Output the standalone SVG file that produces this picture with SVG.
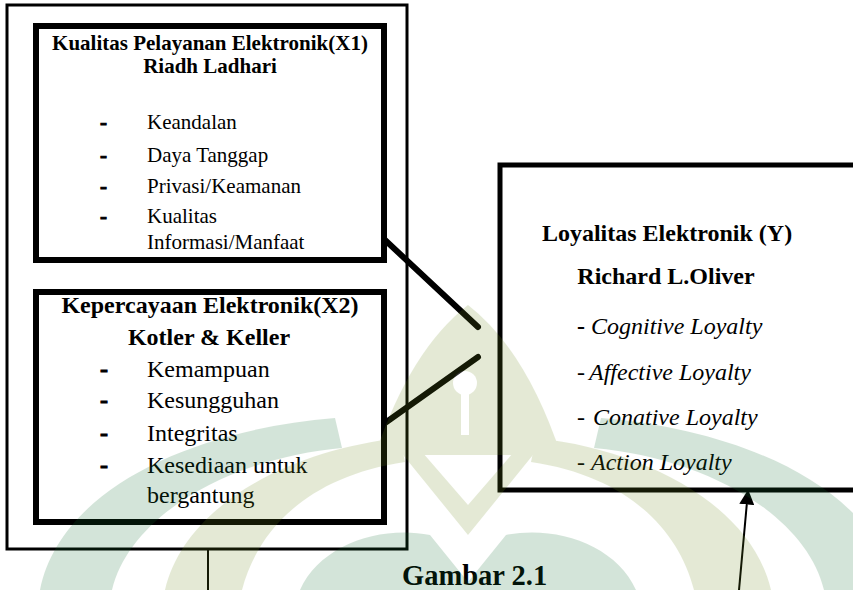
<svg xmlns="http://www.w3.org/2000/svg" width="853" height="590" viewBox="0 0 853 590">
<defs>
<style>
.box{fill:none;stroke:#000}
.t{font-family:"Liberation Serif","Times New Roman",serif;fill:#000}
.b{font-weight:bold}
.i{font-style:italic}
.d{font-weight:bold;stroke:#000;stroke-width:0.9}
.s21{font-size:21px}
.s24{font-size:24px}
.mid{text-anchor:middle}
.conn{stroke:#000;fill:none}
.wy{fill:#6e8c1e}
.wm{fill:#146e32}
</style>
<marker id="ah" viewBox="0 0 10 10" refX="9" refY="5" markerWidth="15" markerHeight="15" markerUnits="userSpaceOnUse" orient="auto">
<path d="M0,0 L10,5 L0,10 Z" fill="#000"/>
</marker>
</defs>
<rect width="853" height="590" fill="#fff"/>

<g id="group-x">
<rect class="box" x="7" y="5" width="400" height="544" stroke-width="3"/>
</g>

<g id="node-x1">
<rect class="box" x="36" y="26" width="348" height="234" stroke-width="6"/>
<text class="t b s21 mid" x="210" y="50">Kualitas Pelayanan Elektronik(X1)</text>
<text class="t b s21 mid" x="210" y="73">Riadh Ladhari</text>
<text class="t d s21" x="100" y="129">-</text>
<text class="t s21" x="147" y="129">Keandalan</text>
<text class="t d s21" x="100" y="162">-</text>
<text class="t s21" x="147" y="162">Daya Tanggap</text>
<text class="t d s21" x="100" y="193">-</text>
<text class="t s21" x="147" y="193">Privasi/Keamanan</text>
<text class="t d s21" x="100" y="223">-</text>
<text class="t s21" x="147" y="223">Kualitas</text>
<text class="t s21" x="147" y="249">Informasi/Manfaat</text>
</g>

<g id="node-x2">
<rect class="box" x="36" y="292" width="348" height="230" stroke-width="6"/>
<text class="t b s24 mid" x="210" y="313">Kepercayaan Elektronik(X2)</text>
<text class="t b s24 mid" x="209" y="345">Kotler &amp; Keller</text>
<text class="t d s24" x="100" y="377">-</text>
<text class="t s24" x="147" y="377">Kemampuan</text>
<text class="t d s24" x="100" y="408">-</text>
<text class="t s24" x="147" y="408">Kesungguhan</text>
<text class="t d s24" x="100" y="441">-</text>
<text class="t s24" x="147" y="441">Integritas</text>
<text class="t d s24" x="100" y="473">-</text>
<text class="t s24" x="147" y="473">Kesediaan untuk</text>
<text class="t s24" x="147" y="503">bergantung</text>
</g>

<g id="node-y">
<rect class="box" x="500" y="165" width="380" height="325" stroke-width="5"/>
<text class="t b s24 mid" x="667" y="241">Loyalitas Elektronik (Y)</text>
<text class="t b s24 mid" x="666" y="284">Richard L.Oliver</text>
<text class="t s24" x="577" y="334"><tspan class="b">-</tspan><tspan class="i" x="591">Cognitive Loyalty</tspan></text>
<text class="t s24" x="577" y="380">-<tspan class="i" x="589">Affective Loyalty</tspan></text>
<text class="t s24" x="577" y="425">-<tspan class="i" x="593">Conative Loyalty</tspan></text>
<text class="t s24" x="577" y="470">-<tspan class="i" x="591">Action Loyalty</tspan></text>
</g>

<g id="connectors">
<line class="conn" x1="385" y1="240" x2="478" y2="327" stroke-width="6" stroke-linecap="round"/>
<line class="conn" x1="478" y1="357" x2="385" y2="423" stroke-width="6" stroke-linecap="round"/>
<line class="conn" x1="208" y1="549" x2="208" y2="590" stroke-width="2"/>
<line class="conn" x1="739" y1="590" x2="748" y2="491" stroke-width="2" marker-end="url(#ah)"/>
</g>

<text id="caption" class="t b" font-size="28.5" x="402" y="585">Gambar 2.1</text>

<g id="watermark" opacity="0.18">
<path class="wm" d="M40 590 C60 490 190 430 335 418 L342 448 C230 458 130 515 112 590 Z"/>
<path class="wm" d="M896 590 C876 490 746 430 601 418 L594 448 C706 458 806 515 824 590 Z"/>
<path class="wy" d="M165 590 C185 505 290 450 400 438 L405 462 C310 476 258 528 242 590 Z"/>
<path class="wy" d="M771 590 C751 505 646 450 536 438 L531 462 C626 476 678 528 694 590 Z"/>
<path class="wy" d="M375 455 Q410 350 468 305 Q526 350 561 455 Z"/>
<circle cx="465" cy="383" r="12" fill="#fff"/>
<rect x="461" y="390" width="8" height="45" fill="#fff"/>
<path class="wy" d="M395 445 L468 535 L541 445 L520 445 L468 505 L416 445 Z"/>
<path class="wm" d="M300 590 C320 545 380 525 430 535 L468 582 L506 535 C556 525 616 545 636 590 Z"/>
</g>
</svg>
